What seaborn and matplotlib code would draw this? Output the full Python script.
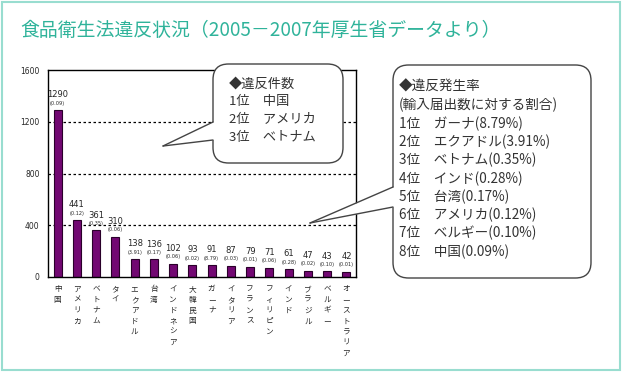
import numpy as np
import pandas as pd
import seaborn as sns
import matplotlib.pyplot as plt
from matplotlib.patches import FancyBboxPatch, Polygon, Rectangle
from matplotlib.lines import Line2D

countries = ["中国", "アメリカ", "ベトナム", "タイ", "エクアドル", "台湾", "インドネシア",
             "大韓民国", "ガーナ", "イタリア", "フランス", "フィリピン", "インド",
             "ブラジル", "ベルギー", "オーストラリア"]
counts = [1290, 441, 361, 310, 138, 136, 102, 93, 91, 87, 79, 71, 61, 47, 43, 42]
rates = ["0.09", "0.12", "0.35", "0.06", "3.91", "0.17", "0.06", "0.02", "8.79",
         "0.03", "0.01", "0.06", "0.28", "0.02", "0.10", "0.01"]
y_ticks = [0, 400, 800, 1200, 1600]

title = "食品衛生法違反状況（2005－2007年厚生省データより）"
box1_lines = ["◆違反件数", "1位　中国", "2位　アメリカ", "3位　ベトナム"]
box2_lines = ["◆違反発生率", "(輸入届出数に対する割合)", "1位　ガーナ(8.79%)",
              "2位　エクアドル(3.91%)", "3位　ベトナム(0.35%)", "4位　インド(0.28%)",
              "5位　台湾(0.17%)", "6位　アメリカ(0.12%)", "7位　ベルギー(0.10%)",
              "8位　中国(0.09%)"]

sns.set_style("white")
plt.rcParams["font.family"] = ["Noto Sans CJK JP", "DejaVu Sans"]

W, H = 623, 373
fig = plt.figure(figsize=(W / 100, H / 100), dpi=100)


def px(x, y):
    return (x / W, 1 - y / H)


# outer frame
fig.patches.append(Rectangle(px(2, 370), 618 / W, 368 / H, transform=fig.transFigure,
                             fill=False, edgecolor="#99ddd0", lw=1.5))
fig.text(*px(20, 30), title, color="#2fb39a", fontsize=13.6, va="center", ha="left")

x0, y0 = px(48, 277)
x1, y1 = px(356, 70)
ax = fig.add_axes([x0, y0, x1 - x0, y1 - y0])

df = pd.DataFrame({"country": countries, "count": counts})
sns.barplot(data=df, x="country", y="count", color="#720872", width=0.42,
            edgecolor="#2a002a", linewidth=0.8, saturation=1, ax=ax)

ax.set_xlim(-0.5, len(countries) - 0.5)
ax.set_ylim(0, 1600)
ax.set_yticks(y_ticks)
ax.set_yticklabels([str(v) for v in y_ticks], fontsize=5.5, family="DejaVu Sans")
for v in y_ticks[1:-1]:
    ax.axhline(v, color="black", lw=0.9, ls=(0, (2, 2)), zorder=0)
for s in ax.spines.values():
    s.set_color("black")
    s.set_linewidth(1)
ax.set_xlabel("")
ax.set_ylabel("")
ax.set_xticks(range(len(countries)))
ax.set_xticklabels(["\n".join(c) for c in countries], fontsize=5.5, va="top",
                   linespacing=1.45)
ax.tick_params(axis="x", length=0, pad=6)
ax.set_xticks(np.arange(-0.5, len(countries), 1), minor=True)
ax.tick_params(axis="x", which="minor", length=2, direction="out", width=0.8)
ax.tick_params(axis="y", length=3, direction="out", width=0.8, pad=3)

for i, (c, r) in enumerate(zip(counts, rates)):
    ax.annotate(str(c), (i, c), xytext=(0, 11), textcoords="offset points",
                ha="center", va="center", fontsize=6, family="DejaVu Sans")
    ax.annotate(f"({r})", (i, c), xytext=(0, 5), textcoords="offset points",
                ha="center", va="center", fontsize=3.6, family="DejaVu Sans")


def callout(bx0, by0, bx1, by1, ty0, ty1, tip):
    (fx0, fy1), (fx1, fy0) = px(bx0, by0), px(bx1, by1)
    box = FancyBboxPatch((fx0, fy0), fx1 - fx0, fy1 - fy0, transform=fig.transFigure,
                         boxstyle="round,pad=0,rounding_size=0.025",
                         facecolor="white", edgecolor="#444444", lw=1, zorder=5,
                         mutation_aspect=W / H)
    fig.patches.append(box)
    tail = Polygon([px(bx0 + 1.5, ty0), px(*tip), px(bx0 + 1.5, ty1)],
                   closed=True, transform=fig.transFigure, facecolor="white",
                   edgecolor="none", zorder=6)
    fig.patches.append(tail)
    for ty in (ty0, ty1):
        a, b = px(bx0, ty), px(*tip)
        fig.lines.append(Line2D([a[0], b[0]], [a[1], b[1]], transform=fig.transFigure,
                                color="#444444", lw=1, zorder=7))


callout(213, 64, 343, 163, 122, 140, (163, 146))
callout(393, 65, 591, 278, 187, 207, (310, 223))

for k, line in enumerate(box1_lines):
    fig.text(*px(229, 84 + k * 18), line, fontsize=9.5, color="#333333",
             va="center", ha="left", zorder=8)
for k, line in enumerate(box2_lines):
    fig.text(*px(399, 87 + k * 18.3), line, fontsize=9.8, color="#333333",
             va="center", ha="left", zorder=8)

fig.savefig("out.png", dpi=100)
